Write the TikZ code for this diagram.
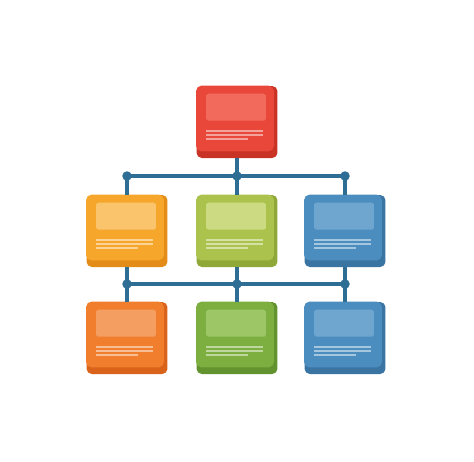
\documentclass[tikz,border=0pt]{standalone}
\usepackage{xcolor}

\definecolor{linkblue}{HTML}{2F6E94}
\definecolor{red-face}{HTML}{E8473A}
\definecolor{red-panel}{HTML}{F26A5C}
\definecolor{red-side}{HTML}{C93326}
\definecolor{orange-face}{HTML}{F6A72B}
\definecolor{orange-panel}{HTML}{F9C46C}
\definecolor{orange-side}{HTML}{E38C17}
\definecolor{lime-face}{HTML}{ABC24C}
\definecolor{lime-panel}{HTML}{CCDB82}
\definecolor{lime-side}{HTML}{8FA838}
\definecolor{sky-face}{HTML}{4C8DBF}
\definecolor{sky-panel}{HTML}{6FA6D0}
\definecolor{sky-side}{HTML}{3A74A3}
\definecolor{tang-face}{HTML}{F07E2C}
\definecolor{tang-panel}{HTML}{F59E62}
\definecolor{tang-side}{HTML}{D9631A}
\definecolor{grass-face}{HTML}{7DAF40}
\definecolor{grass-panel}{HTML}{9DC767}
\definecolor{grass-side}{HTML}{62932E}

\begin{document}
\begin{tikzpicture}
  [x=0.02cm,y=-0.02cm,
   card/.style={rectangle,rounded corners=3pt,minimum width=1.62cm,minimum height=1.44cm,inner sep=0pt},
   link/.style={line width=2.4pt,draw=linkblue},
   joint/.style={circle,fill=linkblue,inner sep=0pt,minimum size=0.19cm},
   textline/.style={line width=1.2pt,draw=white,opacity=0.5}]
  \useasboundingbox (0,0) rectangle (474,461);

  % boxes
  \foreach \n/\x/\y/\c in {top/237/122/red, a1/127/231/orange, a2/237/231/lime, a3/345/231/sky,
                           b1/127/338/tang, b2/237/338/grass, b3/345/338/sky}
  {
    \node[card,fill=\c-side] (\n) at (\x,\y) {};
    \fill[\c-face,rounded corners=3pt] (\n.north west) rectangle ([shift={(-4,-7)}]\n.south east);
    \fill[\c-panel,rounded corners=1pt] ([shift={(10,8)}]\n.north west) rectangle ([shift={(-12,35)}]\n.north east);
    \draw[textline] ([shift={(10,45)}]\n.north west) -- ++(57,0);
    \draw[textline] ([shift={(10,49)}]\n.north west) -- ++(57,0);
    \draw[textline] ([shift={(10,53)}]\n.north west) -- ++(42,0);
  }

  % first bus
  \coordinate (hub1) at (237,176);
  \foreach \i in {1,2,3}
    \coordinate (u\i) at (a\i.north |- hub1);
  \draw[link,line cap=round] (u1) -- (u3);
  \draw[link] (top.south) -- (u2);
  \foreach \i in {1,2,3}
  {
    \draw[link] (u\i) -- (a\i.north);
    \node[joint] at (u\i) {};
  }

  % second bus
  \coordinate (hub2) at (237,284);
  \foreach \i in {1,2,3}
    \coordinate (v\i) at (a\i.south |- hub2);
  \draw[link,line cap=round] (v1) -- (v3);
  \foreach \i in {1,2,3}
  {
    \draw[link] (a\i.south) -- (v\i) -- (b\i.north);
    \node[joint] at (v\i) {};
  }

\end{tikzpicture}
\end{document}
